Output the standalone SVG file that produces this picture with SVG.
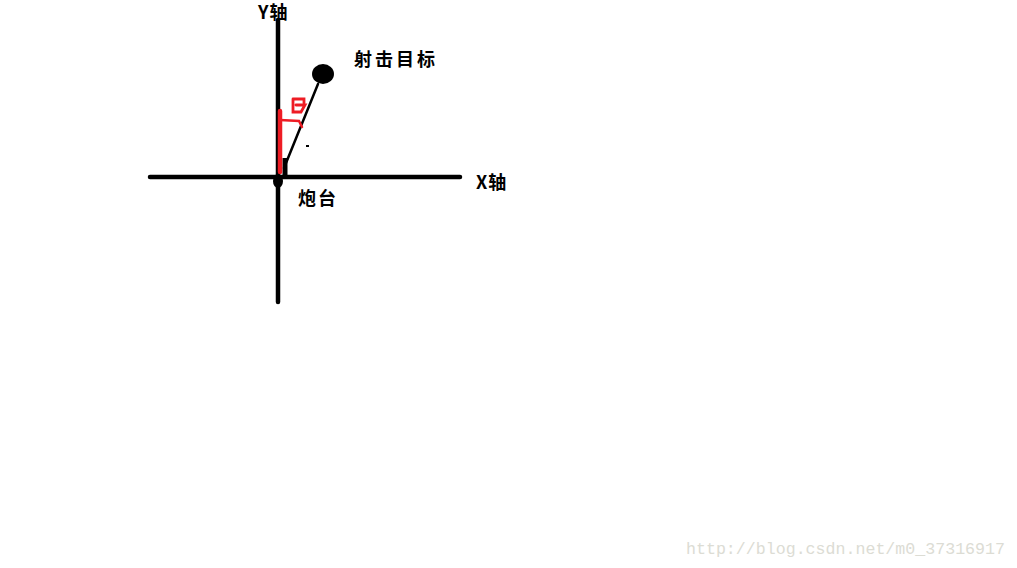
<svg xmlns="http://www.w3.org/2000/svg" width="1017" height="568" viewBox="0 0 1017 568">
<style>
.ax{stroke:#000;stroke-width:4.5;stroke-linecap:round;fill:none}
.red{stroke:#ee1c24;fill:none;stroke-linecap:round}
.lbl{font-family:"Noto Sans CJK SC","Liberation Serif",serif;font-size:18px;font-weight:bold;fill:#000}
</style>
<rect width="1017" height="568" fill="#fff"/>
<g id="axes">
<line class="ax" x1="278" y1="20" x2="278" y2="302"/>
<line class="ax" x1="150" y1="177" x2="460" y2="177"/>
<ellipse cx="278" cy="181" rx="5" ry="7" fill="#000"/>
</g>
<g id="target">
<ellipse cx="323" cy="74" rx="11" ry="10" fill="#000"/>
</g>
<g id="connectors">
<line x1="318" y1="84" x2="284" y2="168" stroke="#000" stroke-width="2.5" stroke-linecap="round"/>
<line x1="285" y1="158" x2="285" y2="175" stroke="#000" stroke-width="5"/>
<line class="red" x1="280" y1="111" x2="280" y2="172" stroke-width="4.5"/>
<polyline class="red" points="280,120 299,121 302,127" stroke-width="2.5"/>
<path class="red" d="M293,99 L304,99 L304,103 M293,99 L293,112 L301,112 L305,105 L296,105" stroke-width="2.8"/>
<rect x="306" y="145" width="3" height="2" fill="#000"/>
</g>
<g id="labels">
<text class="lbl" x="258" y="19" letter-spacing="1">Y轴</text>
<text class="lbl" x="354" y="66" letter-spacing="3">射击目标</text>
<text class="lbl" x="476" y="189" letter-spacing="1">X轴</text>
<text class="lbl" x="298" y="205" letter-spacing="2">炮台</text>
<text x="686" y="554" font-family="Liberation Mono,monospace" font-size="16.5" fill="#dcdcd4" textLength="319" lengthAdjust="spacingAndGlyphs">http://blog.csdn.net/m0_37316917</text>
</g>
</svg>
